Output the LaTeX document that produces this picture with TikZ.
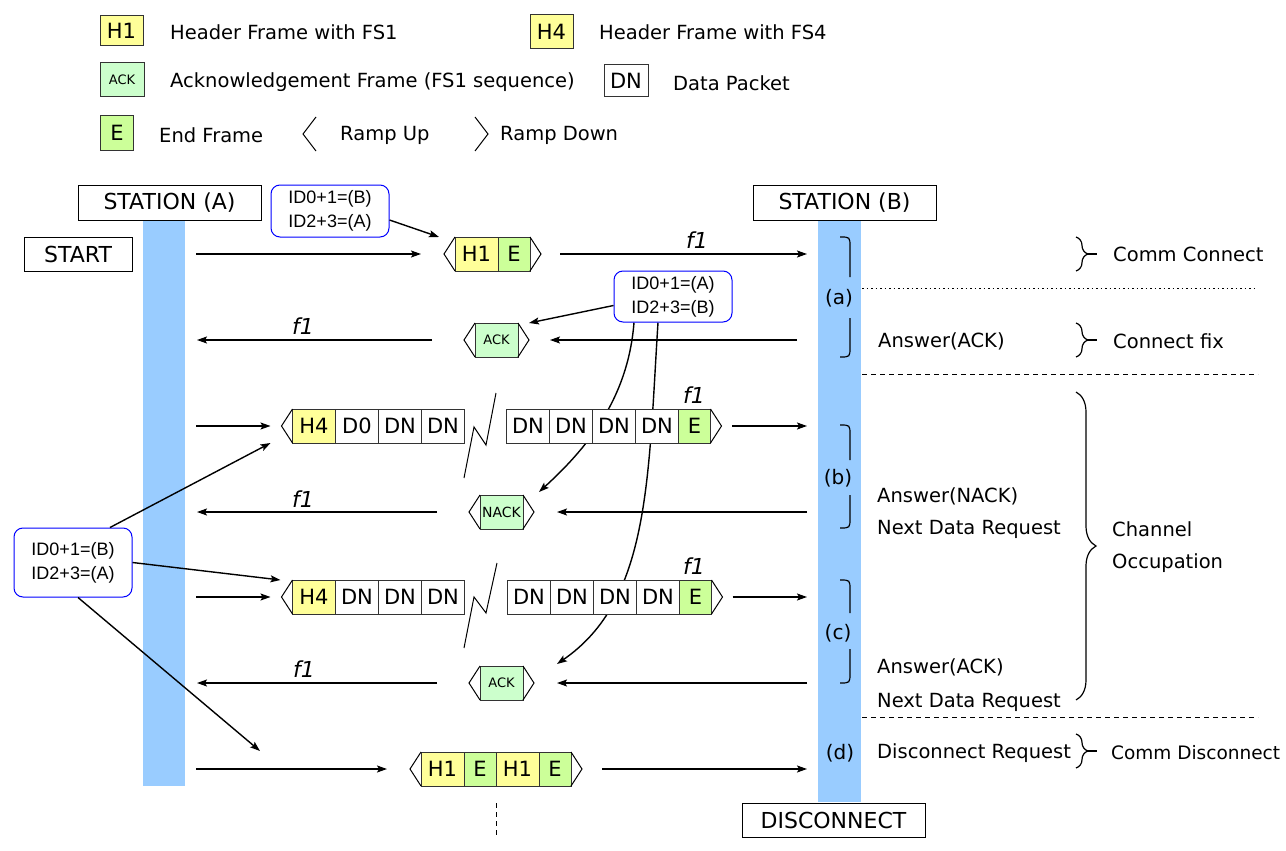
\documentclass[tikz,border=0pt]{standalone}
\usepackage{fontspec}
\setmainfont{DejaVu Sans}
\newfontfamily\idfont{Liberation Sans}
\usepackage{tikz}
\usetikzlibrary{positioning}
\usetikzlibrary{arrows.meta,decorations.pathreplacing,backgrounds}
\definecolor{barblue}{HTML}{99CCFF}
\definecolor{hdryellow}{HTML}{FFFF99}
\definecolor{endgreen}{HTML}{CCFF99}
\definecolor{ackgreen}{HTML}{CCFFCC}
\newcommand{\rampin}[1]{\draw[ramp] (#1.north west) -- ([xshift=-11pt]#1.west) -- (#1.south west);}
\newcommand{\rampout}[1]{\draw[ramp] (#1.north east) -- ([xshift=11pt]#1.east) -- (#1.south east);}

\begin{document}
\begin{tikzpicture}[x=1pt,y=-1pt,
cell/.style={
rectangle,
draw=black!80,
line width=1pt,
fill=white,
inner sep=0pt,
outer sep=0pt,
minimum width=43pt,
minimum height=34pt,
font=\fontsize{21}{24}\selectfont
},
hdr/.style={cell,fill=hdryellow},
endf/.style={cell,fill=endgreen,minimum width=32pt},
ackf/.style={cell,fill=ackgreen,font=\fontsize{13}{15}\selectfont},
station/.style={rectangle,draw,line width=1pt,inner sep=0pt,minimum height=35pt,font=\fontsize{22}{24}\selectfont},
ids/.style={rectangle,rounded corners=9pt,draw=blue,line width=1pt,fill=white,align=center,
  minimum width=118pt,font=\idfont\fontsize{18}{24}\selectfont},
lbl/.style={anchor=west,inner sep=0pt,font=\fontsize{19.5}{23}\selectfont},
phase/.style={inner sep=0pt,font=\fontsize{20}{23}\selectfont},
fone/.style={inner sep=0pt,font=\fontsize{22}{24}\selectfont\itshape},
to/.style={->,>={Stealth[length=10pt,width=7pt,inset=2pt]},line width=1.4pt},
ramp/.style={line width=1pt},
cut/.style={line width=1pt},
paren/.style={line width=1.2pt},
sep/.style={line width=1pt,dash pattern=on 5pt off 4pt},
dotsep/.style={line width=0.8pt,dash pattern=on 1.5pt off 3pt},
curly/.style={decorate,line width=1.2pt},
]
\useasboundingbox (0,0) rectangle (1286,851);

% legend
\node (lh1) [hdr,minimum height=30pt] at (121.5,31) {H1};
\node (lh1t) [lbl] at (170,32) {Header Frame with FS1};
\node (lh4) [hdr] at (551.5,32) {H4};
\node (lh4t) [lbl] at (599,32) {Header Frame with FS4};
\node (lack) [ackf,minimum width=44pt] at (122,80) {ACK};
\node (lackt) [lbl] at (170,82) {Acknowledgement Frame (FS1 sequence)};
\node (ldn) [cell,minimum width=44pt,minimum height=32pt] at (626,81) {DN};
\node (ldnt) [lbl] at (673,83) {Data Packet};
\node (le) [endf,minimum width=33pt,minimum height=35pt] at (117,133) {E};
\node (let) [lbl] at (159,135) {End Frame};
\draw[ramp] (316,117) -- (303,134) -- (316,151);
\node (lup) [lbl] at (340,135) {Ramp Up};
\draw[ramp] (475,117) -- (488,134) -- (475,151);
\node (ldown) [lbl] at (500,135) {Ramp Down};

% stations
\begin{pgfonlayer}{background}
\fill[barblue] (143,220) rectangle (185,786);
\fill[barblue] (818,220) rectangle (861,802);
\end{pgfonlayer}
\node (sta) [station,minimum width=183pt] at (169.5,202.5) {STATION (A)};
\node (stb) [station,minimum width=183pt] at (844.5,202.5) {STATION (B)};
\node (start) [station,minimum width=108pt,minimum height=34pt] at (78,254) {START};
\node (disc) [station,minimum width=183pt,minimum height=34pt] at (833.5,820) {DISCONNECT};

% id boxes
\node (ida) [ids,minimum height=52pt] at (330,211) {ID0+1=(B)\\ID2+3=(A)};
\node (idb) [ids,minimum height=51pt] at (673,296.5) {ID0+1=(A)\\ID2+3=(B)};
\node (idc) [ids,minimum height=69pt] at (73,562.5) {ID0+1=(B)\\ID2+3=(A)};

% (a) connect
\node (h1a) [hdr] at (476.5,254) {H1};
\node (e1a) [endf,right=0pt of h1a] {E};
\rampin{h1a} \rampout{e1a}
\coordinate (A1) at (196,254);
\coordinate (B1) at (807,254);
\draw[to] (A1) -- ([xshift=-34pt]h1a.west);
\draw[to] ([xshift=30pt]e1a.east) -- (B1);
\node (f1a) [fone] at (697,240) {f1};
\draw[to] ([yshift=-9pt]ida.east) -- ([xshift=-16pt]h1a.north west);

\node (ack1) [ackf] at (496.5,340) {ACK};
\rampin{ack1} \rampout{ack1}
\coordinate (A2) at (197,340);
\coordinate (B2) at (797,340);
\draw[to] (B2) -- ([xshift=32pt]ack1.east);
\draw[to] ([xshift=-43pt]ack1.west) -- (A2);
\node (f1b) [fone] at (303,326) {f1};
\draw[to] ([yshift=-9pt]idb.west) -- ([xshift=11pt]ack1.north east);

% (b) data with NACK
\node (h4a) [hdr] at (314,426) {H4};
\node (d0a) [cell,right=0pt of h4a] {D0};
\node (dna) [cell,right=0pt of d0a] {DN};
\node (dnb) [cell,right=0pt of dna] {DN};
\node (dnc) [cell] at (528,426) {DN};
\node (dnd) [cell,right=0pt of dnc] {DN};
\node (dne) [cell,right=0pt of dnd] {DN};
\node (dnf) [cell,right=0pt of dne] {DN};
\node (e3) [endf,right=0pt of dnf] {E};
\rampin{h4a} \rampout{e3}
\draw[cut] (464,478) -- (474,427) -- (486,445) -- (496,393);
\coordinate (A3) at (196,426);
\coordinate (B3) at (807,426);
\draw[to] (A3) -- ([xshift=-22pt]h4a.west);
\draw[to] ([xshift=21.5pt]e3.east) -- (B3);
\node (f1c) [fone] at (694,395) {f1};

\node (nack) [ackf,font=\fontsize{14}{15}\selectfont] at (501.5,512) {NACK};
\rampin{nack} \rampout{nack}
\coordinate (A4) at (197,512);
\coordinate (B4) at (807,512);
\draw[to] (B4) -- ([xshift=34pt]nack.east);
\draw[to] ([xshift=-43pt]nack.west) -- (A4);
\node (f1d) [fone] at (303,499) {f1};

% (c) data with ACK
\node (h4b) [hdr] at (314,597) {H4};
\node (dng) [cell,right=0pt of h4b] {DN};
\node (dnh) [cell,right=0pt of dng] {DN};
\node (dni) [cell,right=0pt of dnh] {DN};
\node (dnj) [cell] at (529,597) {DN};
\node (dnk) [cell,right=0pt of dnj] {DN};
\node (dnl) [cell,right=0pt of dnk] {DN};
\node (dnm) [cell,right=0pt of dnl] {DN};
\node (e5) [endf,right=0pt of dnm] {E};
\rampin{h4b} \rampout{e5}
\draw[cut] (464,648) -- (474,597) -- (486,613) -- (497,563);
\coordinate (A5) at (196,597);
\coordinate (B5) at (807,597);
\draw[to] (A5) -- ([xshift=-22pt]h4b.west);
\draw[to] ([xshift=21pt]e5.east) -- (B5);
\node (f1e) [fone] at (694,566) {f1};

\node (ack2) [ackf] at (501.5,683) {ACK};
\rampin{ack2} \rampout{ack2}
\coordinate (A6) at (197,683);
\coordinate (B6) at (807,683);
\draw[to] (B6) -- ([xshift=34pt]ack2.east);
\draw[to] ([xshift=-43pt]ack2.west) -- (A6);
\node (f1f) [fone] at (304,669) {f1};

% (d) disconnect
\node (h1c) [hdr] at (442.5,769) {H1};
\node (e7a) [endf,right=0pt of h1c] {E};
\node (h1d) [hdr,right=0pt of e7a] {H1};
\node (e7b) [endf,right=0pt of h1d] {E};
\rampin{h1c} \rampout{e7b}
\coordinate (A7) at (196,769);
\coordinate (B7) at (807,769);
\draw[to] (A7) -- ([xshift=-34pt]h1c.west);
\draw[to] ([xshift=31pt]e7b.east) -- (B7);
\draw[sep] ([yshift=-17pt]e7a.south east) -- ++(0,32);

% id pointers
\coordinate (dreq) at (260,751);
\draw[to] ([xshift=37pt]idc.north) -- ([xshift=-22pt]h4a.south west);
\draw[to] (idc.east) -- ([xshift=-12pt]h4b.north west);
\draw[to] ([xshift=5pt]idc.south) -- (dreq);
\begin{pgfonlayer}{background}
\draw[to] ([xshift=-39pt]idb.south) .. controls (628,400) and (585,450) .. ([xshift=16pt,yshift=3pt]nack.north east);
\draw[to] ([xshift=-15pt]idb.south) .. controls (648,480) and (650,600) .. ([xshift=34pt,yshift=2pt]ack2.north east);
\end{pgfonlayer}

% phases on station (B)
\draw[paren] (840,237) .. controls (850,237) .. (850,247) -- (850,277);
\draw[paren] (850,318) -- (850,347) .. controls (850,357) .. (840,357);
\node (pa) [phase] at (839,298) {(a)};
\draw[paren] (840,425) .. controls (850,425) .. (850,435) -- (850,460);
\draw[paren] (850,495) -- (850,518) .. controls (850,528) .. (840,528);
\node (pb) [phase] at (838,478) {(b)};
\draw[paren] (840,580) .. controls (850,580) .. (850,590) -- (850,613);
\draw[paren] (850,649) -- (850,673) .. controls (850,683) .. (840,683);
\node (pc) [phase] at (838,633) {(c)};
\node (pd) [phase] at (840,753) {(d)};

\draw[dotsep] (862,288) -- (1258,288);
\draw[sep] (862,374) -- (1258,374);
\draw[sep] (862,717) -- (1258,717);

% answers
\node (ans1) [lbl] at (878,341) {Answer(ACK)};
\node (ans2) [lbl] at (877,496) {Answer(NACK)};
\node (req2) [lbl] at (877,529) {Next Data Request};
\node (ans3) [lbl] at (877,667) {Answer(ACK)};
\node (req3) [lbl] at (877,702) {Next Data Request};
\node (dreqt) [lbl] at (877,753) {Disconnect Request};

% braces
\draw[curly,decoration={brace,amplitude=12pt}] (1076,237) -- (1076,271);
\draw[line width=1.2pt] (1088,254) -- (1097,254);
\node (cc) [lbl] at (1113,254) {Comm Connect};
\draw[curly,decoration={brace,amplitude=12pt}] (1076,323) -- (1076,357);
\draw[line width=1.2pt] (1088,340) -- (1097,340);
\node (cf) [lbl] at (1113,341) {Connect fix};
\draw[curly,decoration={brace,amplitude=20pt}] (1076,392) -- (1076,700);
\node (co1) [lbl] at (1112,529) {Channel};
\node (co2) [lbl] at (1112,563) {Occupation};
\draw[curly,decoration={brace,amplitude=12pt}] (1076,734) -- (1076,768);
\draw[line width=1.2pt] (1088,751) -- (1097,751);
\node (cd) [lbl,font=\fontsize{18.5}{23}\selectfont] at (1111,753) {Comm Disconnect};
\end{tikzpicture}
\end{document}
